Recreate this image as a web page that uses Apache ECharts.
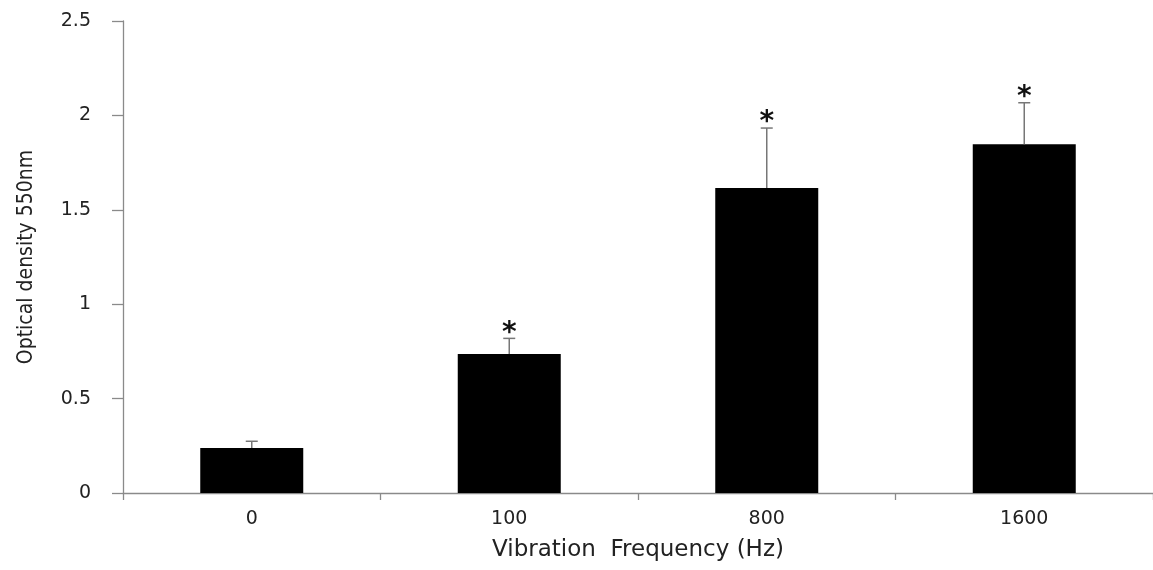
<!DOCTYPE html>
<html>
<head>
<meta charset="utf-8">
<script src="https://cdn.jsdelivr.net/npm/echarts@6/dist/echarts.min.js"></script>
<style>html,body{margin:0;padding:0;background:#fff;}#c{width:1153px;height:570px;}</style>
</head>
<body>
<div id="c"></div>
<script>
const categories = ['0', '100', '800', '1600'];
const means = [0.238, 0.736, 1.615, 1.847];
const errors = [0.036, 0.083, 0.318, 0.22];
const significant = [false, true, true, true];
const yTicks = [0, 0.5, 1, 1.5, 2, 2.5];

const chart = echarts.init(document.getElementById('c'));
chart.setOption({
  animation: false,
  grid: { left: 123, right: 0, top: 21, bottom: 77 },
  xAxis: {
    type: 'category',
    data: categories,
    name: 'Vibration  Frequency (Hz)',
    nameLocation: 'middle',
    nameGap: 46,
    nameTextStyle: { fontFamily: 'DejaVu Sans', fontSize: 23, color: '#222' },
    axisLine: { lineStyle: { color: '#8a8a8a', width: 1.3 } },
    axisTick: { show: true, length: 7, lineStyle: { color: '#8a8a8a', width: 1.3 } },
    axisLabel: { fontFamily: 'DejaVu Sans', fontSize: 19, color: '#222', margin: 17 }
  },
  yAxis: {
    type: 'value',
    min: 0, max: 2.5, interval: 0.5,
    name: 'Optical density 550nm',
    nameLocation: 'middle',
    nameGap: 86,
    nameTextStyle: { fontFamily: "'Liberation Sans Narrow', 'DejaVu Sans Condensed'", fontSize: 21, color: '#222' },
    splitLine: { show: false },
    axisLine: { show: true, lineStyle: { color: '#8a8a8a', width: 1.3 } },
    axisTick: { show: true, length: 11, lineStyle: { color: '#8a8a8a', width: 1.3 } },
    axisLabel: {
      fontFamily: 'DejaVu Sans', fontSize: 19, color: '#222', margin: 32,
      formatter: v => yTicks.includes(v) ? String(v) : ''
    }
  },
  series: [
    {
      type: 'bar',
      data: means,
      barWidth: '40%',
      itemStyle: { color: '#000' }
    },
    {
      type: 'custom',
      data: means.map((m, i) => [i, m, m + errors[i]]),
      z: 5,
      renderItem: function (params, api) {
        const i = api.value(0);
        const base = api.coord([i, api.value(1)]);
        const top = api.coord([i, api.value(2)]);
        const children = [
          { type: 'line', shape: { x1: base[0], y1: base[1], x2: top[0], y2: top[1] }, style: { stroke: '#777', lineWidth: 1.5 } },
          { type: 'line', shape: { x1: top[0] - 6, y1: top[1], x2: top[0] + 6, y2: top[1] }, style: { stroke: '#777', lineWidth: 1.5 } }
        ];
        if (significant[i]) {
          children.push({
            type: 'text',
            style: { text: '*', x: top[0], y: top[1] - 5, fill: '#111', font: 'bold 28px DejaVu Sans', textAlign: 'center', textVerticalAlign: 'middle' }
          });
        }
        return { type: 'group', children: children };
      }
    }
  ]
});
</script>
</body>
</html>
